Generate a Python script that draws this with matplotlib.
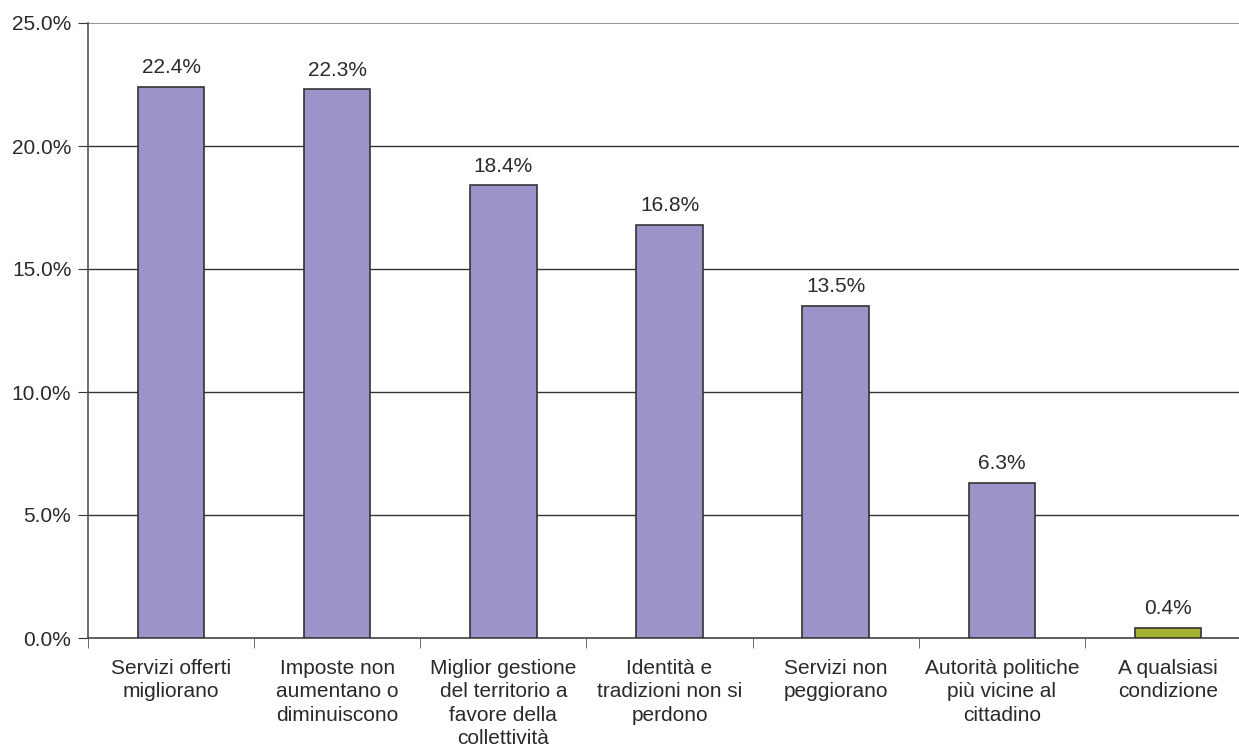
import matplotlib.pyplot as plt
import numpy as np

categories = [
    "Servizi offerti\nmigliorano",
    "Imposte non\naumentano o\ndiminuiscono",
    "Miglior gestione\ndel territorio a\nfavore della\ncollettività",
    "Identità e\ntradizioni non si\nperdono",
    "Servizi non\npeggiorano",
    "Autorità politiche\npiù vicine al\ncittadino",
    "A qualsiasi\ncondizione",
]
values = [22.4, 22.3, 18.4, 16.8, 13.5, 6.3, 0.4]
colors = ["#9b94c8"] * 6 + ["#a4b232"]

plt.rcParams['font.family'] = ['Liberation Sans', 'DejaVu Sans']
fs = 15

fig = plt.figure(figsize=(12.39, 7.56), dpi=100)
ax = fig.add_axes([88 / 1239, 118 / 756, 1163 / 1239, 615 / 756])

x = np.arange(len(values))
ax.bar(x, values, width=0.4, color=colors, edgecolor="#333333", linewidth=1.2, zorder=3)
for xi, v in zip(x, values):
    ax.text(xi, v + 0.4, f"{v:.1f}%", ha="center", va="bottom", fontsize=fs, color="#2a2a2a")

ax.set_xlim(-0.5, len(values) - 0.5)
ax.set_ylim(0, 25)
yt = np.arange(0, 25.1, 5)
ax.set_yticks(yt)
ax.set_yticklabels([f"{t:.1f}%" for t in yt], fontsize=fs, color="#2a2a2a")
for t in yt[1:-1]:
    ax.axhline(t, color="#333333", linewidth=1.0, zorder=1)
ax.axhline(25, color="#8a7f7f", linewidth=1.2, zorder=1)

ax.set_xticks(x)
ax.set_xticklabels(categories, fontsize=fs, color="#2a2a2a", linespacing=1.3)
ax.tick_params(axis="x", length=0, pad=15)
ax.set_xticks(np.arange(-0.5, len(values), 1), minor=True)
ax.tick_params(axis="x", which="minor", length=7, color="#555555", direction="out")
ax.tick_params(axis="y", length=7, color="#333333", pad=5)

for s in ["top", "right"]:
    ax.spines[s].set_visible(False)
ax.spines["left"].set_color("#555555")
ax.spines["bottom"].set_color("#444444")
ax.spines["left"].set_linewidth(1.2)
ax.spines["bottom"].set_linewidth(1.2)

fig.savefig("out.png", dpi=100)
